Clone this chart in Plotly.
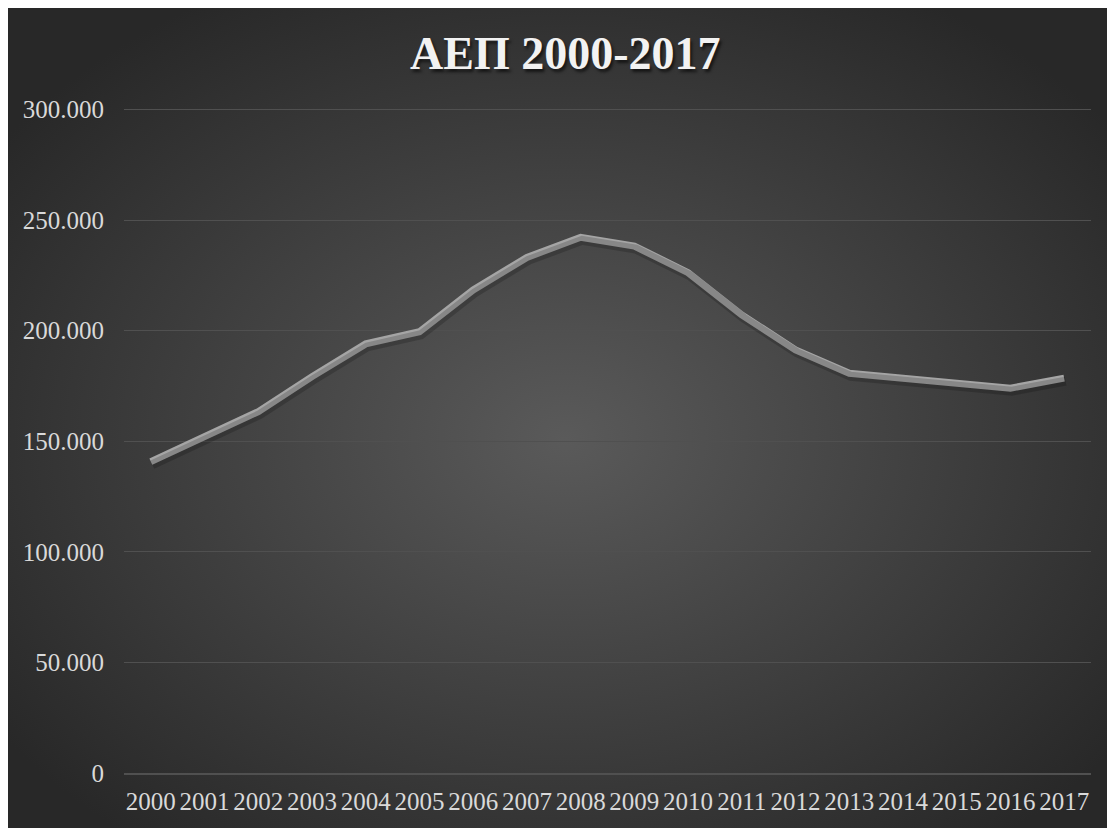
import plotly.graph_objects as go
import urllib.parse

years = [str(y) for y in range(2000, 2018)]
gdp = [140800, 152100, 163400, 179200, 194000, 199500, 218400, 233100, 242200,
       238200, 226200, 207100, 191300, 180700, 178500, 176200, 174000, 178500]
y_ticks = [0, 50000, 100000, 150000, 200000, 250000, 300000]
title_text = "ΑΕΠ 2000-2017"

W, H = 1115, 828
L, R, T, B = 116, 32, 97, 63
PW, PH = W - L - R, H - T - B
YMAX = 302000

svg = (
    f'<svg xmlns="http://www.w3.org/2000/svg" width="{W}" height="{H}" viewBox="0 0 {W} {H}" preserveAspectRatio="none">'
    '<defs><radialGradient id="g" cx="0.5" cy="0.52" r="0.62">'
    '<stop offset="0" stop-color="#5a5a5a"/><stop offset="1" stop-color="#282828"/>'
    '</radialGradient></defs>'
    f'<rect width="{W}" height="{H}" fill="url(#g)"/></svg>'
)
bg_src = "data:image/svg+xml;charset=utf-8," + urllib.parse.quote(svg)

fig = go.Figure()

# soft shadow of the line (same data drawn on overlaid axes shifted down/right)
dx = 1.5 / PW
dy = 3.0 / PH
fig.add_trace(go.Scatter(
    x=years, y=gdp, mode="lines", xaxis="x2", yaxis="y2",
    line=dict(color="rgba(0,0,0,0.18)", width=9), hoverinfo="skip", showlegend=False,
))
fig.add_trace(go.Scatter(
    x=years, y=gdp, mode="lines",
    line=dict(color="#a5a5a5", width=7), showlegend=False,
))

font_ser = "Liberation Serif, Times New Roman, serif"

fig.update_layout(
    width=W, height=H,
    margin=dict(l=L, r=R, t=T, b=B),
    paper_bgcolor="#282828",
    plot_bgcolor="rgba(0,0,0,0)",
    separators=",.",
    images=[dict(source=bg_src, xref="paper", yref="paper",
                 x=-L / PW, y=1 + T / PH, sizex=W / PW, sizey=H / PH,
                 xanchor="left", yanchor="top", layer="below", sizing="stretch")],
    xaxis=dict(type="category", range=[-0.5, 17.5], showgrid=False,
               showline=True, linecolor="#505050", linewidth=1.5, ticks="",
               ticklabelstandoff=5,
               tickfont=dict(family=font_ser, size=25, color="#d9d9d9"),
               zeroline=False, fixedrange=True),
    yaxis=dict(range=[0, YMAX], tickvals=y_ticks, tickformat=",d",
               showgrid=True, gridcolor="#505050", gridwidth=1.2,
               zeroline=False, showline=False, ticks="",
               ticklabelstandoff=19,
               tickfont=dict(family=font_ser, size=25, color="#d9d9d9"),
               fixedrange=True),
    xaxis2=dict(type="category", range=[-0.5 - 18 * dx, 17.5 - 18 * dx], visible=False,
                overlaying="x", anchor="y2"),
    yaxis2=dict(range=[YMAX * dy, YMAX + YMAX * dy], visible=False,
                overlaying="y", anchor="x2"),
    annotations=[
        dict(text="<b>" + title_text + "</b>", xref="paper", yref="paper",
             x=0.5 - (L - R) / 2 / PW, y=1 + (T - 46) / PH, xanchor="center", yanchor="middle",
             showarrow=False,
             font=dict(family=font_ser, size=46, color="#f2f2f2",
                       shadow="2px 3px 3px rgba(0,0,0,0.6)")),
    ],
)

fig.write_html("out.html")
